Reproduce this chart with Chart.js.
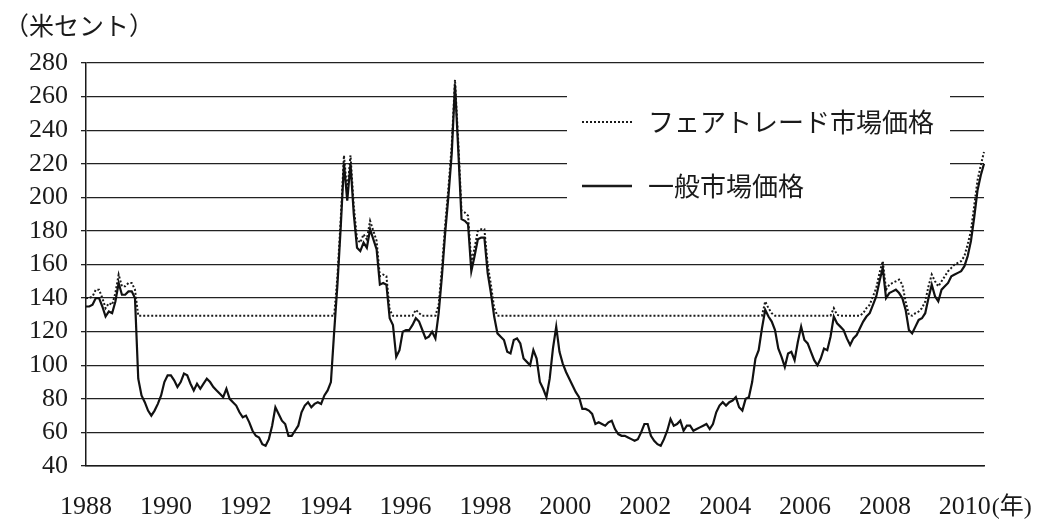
<!DOCTYPE html>
<html><head><meta charset="utf-8">
<script src="https://cdn.jsdelivr.net/npm/chart.js@4.4.1/dist/chart.umd.min.js"></script>
<style>html,body{margin:0;padding:0;background:#fff;} #wrap{width:1038px;height:520px;}</style>
</head><body><div id="wrap"><canvas id="c" width="1038" height="520"></canvas></div>
<script>
// ---- categories / labels ----
const firstYear = 1988;
const lastYear = 2010;
const yearTickLabels = [1988, 1990, 1992, 1994, 1996, 1998, 2000, 2002, 2004, 2006, 2008, 2010];
const yTickMin = 40, yTickMax = 280, yTickStep = 20;
const unitLabel = '（米セント）';
const yearSuffix = '(年)';
const legendFairtrade = 'フェアトレード市場価格';
const legendMarket = '一般市場価格';

// ---- series values (US cents / lb, monthly, Jan 1988 – Dec 2010) ----
const generalMarketPrice = [
  135,135,136,140,140,135,129,132,131,138,149,142, // 1988
  142,144,144,140, 92, 82, 78, 73, 70, 73, 77, 82, // 1989
   90, 94, 94, 91, 87, 90, 95, 94, 89, 85, 89, 86, // 1990
   89, 92, 90, 87, 85, 83, 81, 86, 80, 78, 76, 72, // 1991
   69, 70, 66, 61, 58, 57, 53, 52, 56, 64, 75, 71, // 1992
   67, 65, 58, 58, 61, 64, 72, 76, 78, 75, 77, 78, // 1993
   77, 82, 85, 90,120,148,182,220,198,220,190,170, // 1994
  168,173,170,181,175,169,148,149,148,128,124,105, // 1995
  109,120,121,121,124,128,126,121,116,117,120,116, // 1996
  131,153,179,201,226,267,228,187,186,184,156,165, // 1997
  175,176,176,155,143,129,119,117,115,108,107,115, // 1998
  116,113,104,102,100,109,104, 90, 86, 81, 92,110, // 1999
  123,108,101, 96, 92, 88, 84, 81, 74, 74, 73, 71, // 2000
   65, 66, 65, 64, 66, 67, 62, 59, 58, 58, 57, 56, // 2001
   55, 56, 60, 65, 65, 58, 55, 53, 52, 56, 61, 68, // 2002
   64, 65, 67, 61, 64, 64, 61, 62, 63, 64, 65, 62, // 2003
   65, 72, 76, 78, 76, 78, 79, 81, 75, 73, 80, 81, // 2004
   90,104,109,122,133,129,126,121,110,105, 99,107, // 2005
  108,103,114,123,115,113,108,103,100,104,110,109, // 2006
  117,129,125,123,121,116,112,116,118,122,126,129, // 2007
  131,136,141,150,158,140,143,144,145,143,140,133, // 2008
  121,119,123,127,128,131,140,148,141,138,145,147, // 2009
  149,153,154,155,156,159,165,174,188,204,213,220  // 2010
];
const fairtradePrice = [
  140,140,141,145,145,140,134,137,136,143,154,147, // 1988
  147,149,149,145,129.5,129.5,129.5,129.5,129.5,129.5,129.5,129.5, // 1989
  129.5,129.5,129.5,129.5,129.5,129.5,129.5,129.5,129.5,129.5,129.5,129.5, // 1990
  129.5,129.5,129.5,129.5,129.5,129.5,129.5,129.5,129.5,129.5,129.5,129.5, // 1991
  129.5,129.5,129.5,129.5,129.5,129.5,129.5,129.5,129.5,129.5,129.5,129.5, // 1992
  129.5,129.5,129.5,129.5,129.5,129.5,129.5,129.5,129.5,129.5,129.5,129.5, // 1993
  129.5,129.5,129.5,129.5,129.5,153,187,225,203,225,195,175, // 1994
  173,178,175,186,180,174,153,154,153,133,129.5,129.5, // 1995
  129.5,129.5,129.5,129.5,129.5,133,131,129.5,129.5,129.5,129.5,129.5, // 1996
  136,158,184,206,231,270,233,192,191,189,161,170, // 1997
  180,181,181,160,148,134,129.5,129.5,129.5,129.5,129.5,129.5, // 1998
  129.5,129.5,129.5,129.5,129.5,129.5,129.5,129.5,129.5,129.5,129.5,129.5, // 1999
  129.5,129.5,129.5,129.5,129.5,129.5,129.5,129.5,129.5,129.5,129.5,129.5, // 2000
  129.5,129.5,129.5,129.5,129.5,129.5,129.5,129.5,129.5,129.5,129.5,129.5, // 2001
  129.5,129.5,129.5,129.5,129.5,129.5,129.5,129.5,129.5,129.5,129.5,129.5, // 2002
  129.5,129.5,129.5,129.5,129.5,129.5,129.5,129.5,129.5,129.5,129.5,129.5, // 2003
  129.5,129.5,129.5,129.5,129.5,129.5,129.5,129.5,129.5,129.5,129.5,129.5, // 2004
  129.5,129.5,129.5,129.5,138,134,131,129.5,129.5,129.5,129.5,129.5, // 2005
  129.5,129.5,129.5,129.5,129.5,129.5,129.5,129.5,129.5,129.5,129.5,129.5, // 2006
  129.5,134,130,129.5,129.5,129.5,129.5,129.5,129.5,129.5,131,134, // 2007
  136,141,146,155,162,145,148,149,150,151,148,138, // 2008
  130,129.5,131,132,134,138,147,154,150,147,150,153, // 2009
  156,158,160,161,162,165,172,180,195,210,219,227  // 2010
];

// monthly category labels built from the years
const monthLabels = [];
for (let y = firstYear; y <= lastYear; y++) {
  for (let m = 1; m <= 12; m++) monthLabels.push(y + '-' + String(m).padStart(2, '0'));
}

const INK = '#1a1a1a';
const SERIF = '"Liberation Serif", "DejaVu Serif", serif';
const JP = '"Noto Sans CJK JP", "Noto Sans", sans-serif';
const TICK_FONT = 26;
const X_PAD = 26;

const annotPlugin = {
  id: 'annot',
  afterDraw(chart) {
    const c = chart.ctx;
    const area = chart.chartArea;
    c.save();
    c.fillStyle = INK;
    // unit label
    c.font = '25px ' + JP;
    c.textAlign = 'left';
    c.textBaseline = 'middle';
    c.fillText(unitLabel, 4, 25);
    // year suffix after last tick
    const xs = chart.scales.xYear;
    const lastTick = yearTickLabels[yearTickLabels.length - 1];
    const px = xs.getPixelForValue(lastTick);
    c.font = TICK_FONT + 'px ' + SERIF;
    const w = c.measureText(String(lastTick)).width;
    c.font = '24px "Liberation Serif", "Noto Sans CJK JP", serif';
    const ty = area.bottom + X_PAD + TICK_FONT * 1.2 / 2;
    c.fillText(yearSuffix, px + w / 2 + 1, ty);
    // legend box
    c.fillStyle = '#fff';
    c.fillRect(567, 76, 383, 140);
    c.strokeStyle = INK;
    c.lineWidth = 2;
    c.setLineDash([2, 2]);
    c.beginPath(); c.moveTo(582, 122); c.lineTo(632, 122); c.stroke();
    c.setLineDash([]);
    c.lineWidth = 2.5;
    c.beginPath(); c.moveTo(582, 186); c.lineTo(632, 186); c.stroke();
    c.fillStyle = INK;
    c.font = '26px ' + JP;
    c.fillText(legendFairtrade, 648, 122);
    c.fillText(legendMarket, 648, 186);
    c.restore();
  }
};

new Chart(document.getElementById('c').getContext('2d'), {
  type: 'line',
  data: {
    labels: monthLabels,
    datasets: [
      { label: legendFairtrade, data: fairtradePrice, borderColor: INK, borderWidth: 2, borderDash: [2, 2],
        pointRadius: 0, tension: 0, fill: false, xAxisID: 'x', yAxisID: 'y', order: 2 },
      { label: legendMarket, data: generalMarketPrice, borderColor: '#111', borderWidth: 2.2,
        pointRadius: 0, tension: 0, fill: false, xAxisID: 'x', yAxisID: 'y', order: 1 }
    ]
  },
  options: {
    responsive: false, animation: false, devicePixelRatio: 1,
    layout: { padding: { left: 0, right: 54, top: 63, bottom: 0 } },
    plugins: { legend: { display: false }, tooltip: { enabled: false }, title: { display: false } },
    scales: {
      x: { type: 'category', display: false, offset: false },
      xYear: {
        type: 'linear', position: 'bottom', min: yearTickLabels[0], max: 2010.48,
        afterFit(s) { s.height = 54; },
        grid: { display: false, drawTicks: false },
        border: { display: true, color: INK, width: 1.5 },
        ticks: {
          stepSize: 2, includeBounds: false, autoSkip: false, maxRotation: 0, minRotation: 0,
          padding: X_PAD, color: INK, font: { family: SERIF, size: TICK_FONT },
          callback: v => yearTickLabels.includes(v) ? String(v) : ''
        }
      },
      y: {
        min: yTickMin, max: yTickMax,
        afterFit(s) { s.width = 86; },
        ticks: { stepSize: yTickStep, autoSkip: false, padding: 13, color: INK, font: { family: SERIF, size: TICK_FONT } },
        grid: { color: '#222', lineWidth: 1.3, tickLength: 5, drawTicks: true, tickColor: '#222' },
        border: { color: INK, width: 1.5 }
      }
    }
  },
  plugins: [annotPlugin]
});
</script>
</body></html>
